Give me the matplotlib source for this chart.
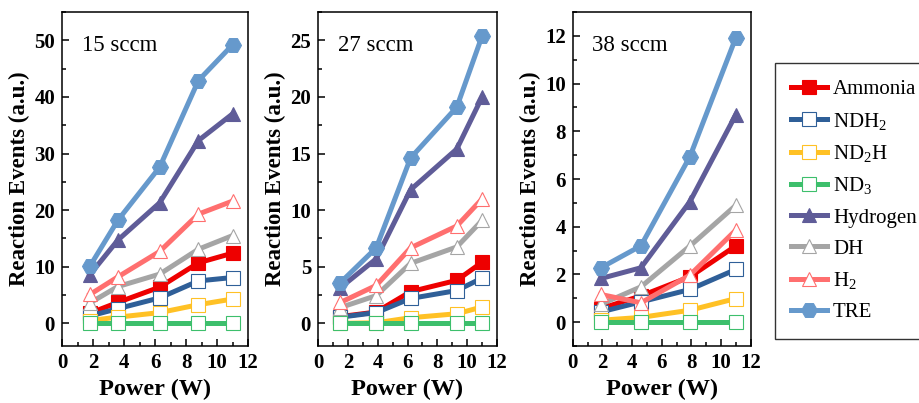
import matplotlib
matplotlib.use('Agg')
import matplotlib.pyplot as plt
from matplotlib.ticker import MultipleLocator
from matplotlib.lines import Line2D

plt.rcParams['font.family'] = ['Liberation Serif', 'DejaVu Serif']
plt.rcParams['mathtext.fontset'] = 'custom'
plt.rcParams['mathtext.rm'] = 'Liberation Serif'

# flow rates and the power settings used at each
flows = ['15 sccm', '27 sccm', '38 sccm']
power_15 = [1.8, 3.6, 6.3, 8.8, 11.0]
power_27 = [1.5, 3.9, 6.2, 9.3, 11.0]
power_38 = [1.9, 4.6, 7.9, 11.0]

species = ['Ammonia', r'$\mathregular{NDH_2}$', r'$\mathregular{ND_2H}$', r'$\mathregular{ND_3}$',
           'Hydrogen', 'DH', r'$\mathregular{H_2}$', 'TRE']

# reaction events (a.u.) per species, one list per flow
events_15 = [
    [1.8, 3.7, 6.4, 10.7, 12.4],     # Ammonia
    [1.3, 2.6, 4.5, 7.5, 8.1],       # NDH2
    [0.5, 1.1, 1.9, 3.3, 4.3],       # ND2H
    [0.0, 0.0, 0.0, 0.0, 0.0],       # ND3
    [8.6, 14.7, 21.3, 32.3, 37.0],   # Hydrogen
    [3.6, 6.5, 8.7, 13.1, 15.5],     # DH
    [5.1, 8.2, 12.7, 19.3, 21.6],    # H2
    [10.1, 18.2, 27.6, 42.9, 49.2],  # TRE
]
events_27 = [
    [0.6, 1.0, 2.8, 3.8, 5.4],
    [0.55, 0.95, 2.2, 2.9, 4.0],
    [0.0, 0.05, 0.5, 0.85, 1.45],
    [0.0, 0.0, 0.0, 0.0, 0.0],
    [3.15, 5.7, 11.8, 15.4, 20.0],
    [1.4, 2.45, 5.3, 6.75, 9.1],
    [1.85, 3.35, 6.67, 8.6, 11.0],
    [3.6, 6.67, 14.6, 19.1, 25.4],
]
events_38 = [
    [0.57, 1.1, 1.9, 3.2],
    [0.43, 0.85, 1.37, 2.21],
    [0.08, 0.2, 0.5, 0.99],
    [0.0, 0.0, 0.0, 0.0],
    [1.83, 2.28, 5.05, 8.7],
    [0.75, 1.48, 3.19, 4.9],
    [1.16, 0.81, 1.97, 3.86],
    [2.28, 3.2, 6.94, 11.93],
]

colors = ['#ee0000', '#2f5f98', '#ffc125', '#3dbf6c', '#5f5c98', '#a5a5a5', '#ff6f6f', '#6699cc']
markers = ['s', 's', 's', 's', '^', '^', '^', 'H']
filled = [True, False, False, False, True, False, False, True]

panels = [
    (power_15, events_15, (-4, 55), 10, 5, [0.0674, 0.1414, 0.2022, 0.8288]),
    (power_27, events_27, (-2, 27.5), 5, 2.5, [0.3457, 0.1414, 0.1946, 0.8288]),
    (power_38, events_38, (-1, 13), 2, 1, [0.6225, 0.1414, 0.1935, 0.8288]),
]

fig = plt.figure(figsize=(9.2, 4.03), dpi=100)

for (x, data, ylim, major, minor, rect), flow in zip(panels, flows):
    ax = fig.add_axes(rect)
    for i in range(len(species)):
        face = colors[i] if filled[i] else 'white'
        ax.plot(x, data[i], color=colors[i], lw=3.6, marker=markers[i],
                ms=10.5 if markers[i] != 'H' else 11.5,
                mfc=face, mec=colors[i], mew=0.8, zorder=2 + i)
    ax.set_xlim(0, 12)
    ax.set_ylim(*ylim)
    ax.xaxis.set_major_locator(MultipleLocator(2))
    ax.xaxis.set_minor_locator(MultipleLocator(1))
    ax.yaxis.set_major_locator(MultipleLocator(major))
    ax.yaxis.set_minor_locator(MultipleLocator(minor))
    ax.tick_params(which='both', direction='in', width=1.1)
    ax.tick_params(which='major', length=5, labelsize=15, pad=5)
    ax.tick_params(which='minor', length=3)
    for lab in ax.get_xticklabels() + ax.get_yticklabels():
        lab.set_fontweight('bold')
    for sp in ax.spines.values():
        sp.set_linewidth(1.1)
    ax.set_xlabel('Power (W)', fontsize=17.5, fontweight='bold', labelpad=4)
    ax.set_ylabel('Reaction Events (a.u.)', fontsize=16.5, fontweight='bold', labelpad=3)
    ax.text(0.11, 0.90, flow, transform=ax.transAxes, fontsize=16.5, va='center', ha='left')

handles = []
for i in range(len(species)):
    face = colors[i] if filled[i] else 'white'
    handles.append(Line2D([], [], color=colors[i], lw=3.6, marker=markers[i],
                          ms=10.5 if markers[i] != 'H' else 11.5,
                          mfc=face, mec=colors[i], mew=0.8))
fig.legend(handles, species, loc='upper left', bbox_to_anchor=(0.842, 0.844),
           fontsize=15, frameon=True, fancybox=False, edgecolor='black',
           handlelength=1.7, handletextpad=0.3, labelspacing=0.55,
           borderpad=0.8, borderaxespad=0).get_frame().set_linewidth(1.0)

fig.savefig('out.png', dpi=100)
